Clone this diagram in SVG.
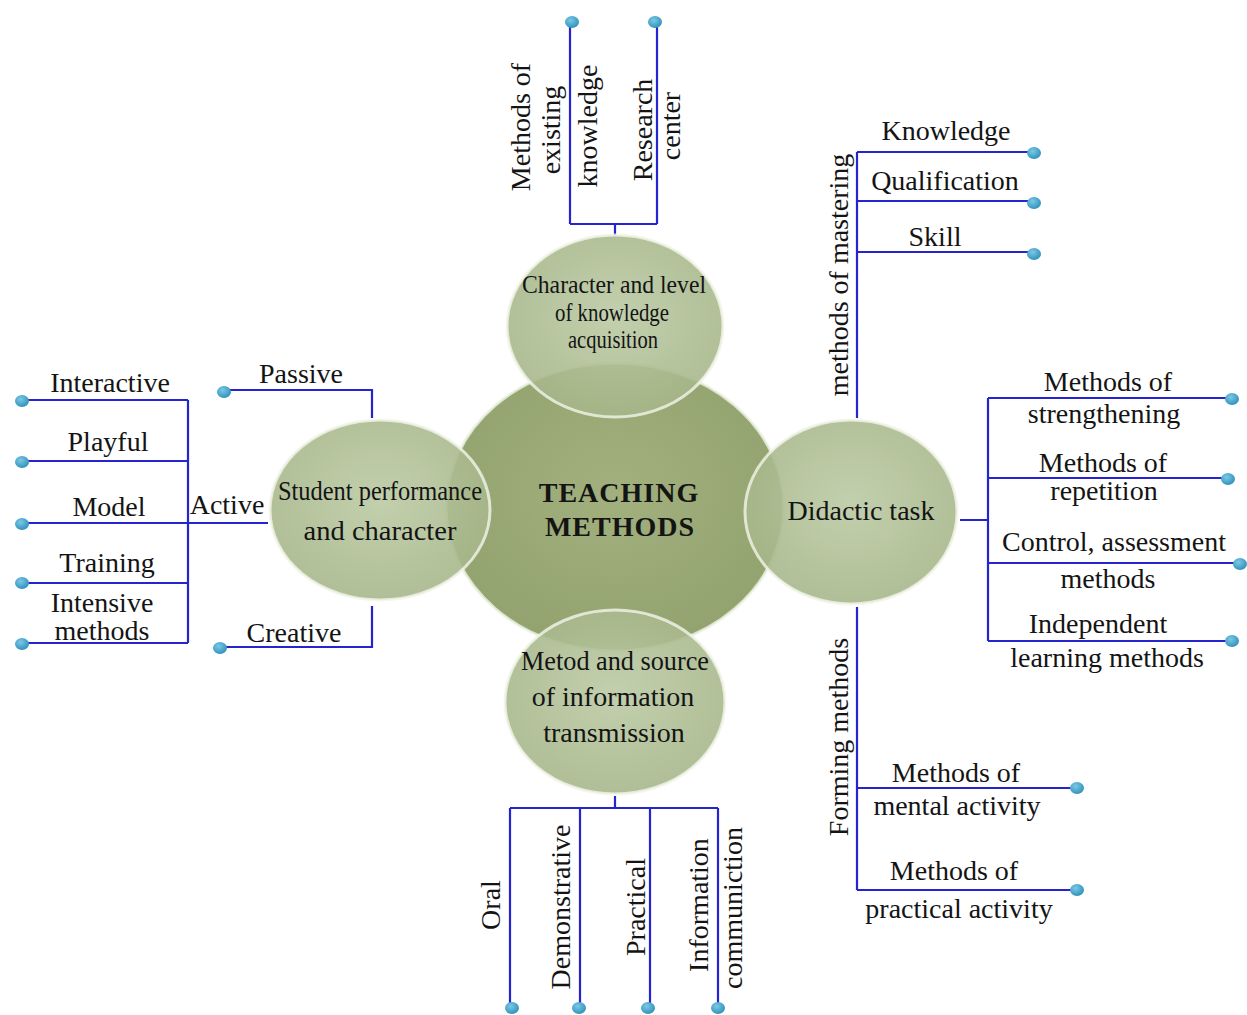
<svg xmlns="http://www.w3.org/2000/svg" width="1247" height="1015" viewBox="0 0 1247 1015" font-family="'Liberation Serif','DejaVu Serif',serif">
<defs>
<style>
text{font-family:'Liberation Serif','Times New Roman','DejaVu Serif',serif;fill:#141414;font-size:28px}
.c{text-anchor:middle}
.k{font-size:26px}
.b{font-weight:bold;font-size:28px;letter-spacing:1px}
.ln{fill:none;stroke:#2424d0;stroke-width:2.2}
.dot{fill:url(#dg)}
.sat{fill:url(#sg);stroke:#f2f5ea;stroke-opacity:0.8;stroke-width:3}
.main{fill:url(#mg);stroke:#eef2e4;stroke-opacity:0.8;stroke-width:3}
</style>
<radialGradient id="dg" cx="0.4" cy="0.35" r="0.7">
<stop offset="0" stop-color="#7cc8e6"/>
<stop offset="1" stop-color="#2b8fb8"/>
</radialGradient>
<radialGradient id="sg" cx="0.5" cy="0.45" r="0.6">
<stop offset="0" stop-color="#bccaa4" stop-opacity="0.9"/>
<stop offset="1" stop-color="#a3b486" stop-opacity="0.88"/>
</radialGradient>
<radialGradient id="mg" cx="0.5" cy="0.45" r="0.6">
<stop offset="0" stop-color="#a2b07e"/>
<stop offset="1" stop-color="#91a26e"/>
</radialGradient>
</defs>

<g id="connectors">
<path class="ln" d="M615,235 V224 M570,224 H657 M570,224 V22 M657,224 V22"/>
<path class="ln" d="M372,418 V390 H222 M372,606 V647 H220 M268,523 H188 M188,400 V643 M20,400 H188 M20,461 H188 M20,523 H188 M20,583 H188 M20,643 H188"/>
<path class="ln" d="M857,418 V152 M857,152 H1033 M857,201 H1033 M857,252 H1033"/>
<path class="ln" d="M960,520 H988 M988,398 V641 M988,398 H1232 M988,478 H1228 M988,563 H1240 M988,641 H1232"/>
<path class="ln" d="M857,607 V890 M857,788 H1075 M857,890 H1075"/>
<path class="ln" d="M615,796 V808 M510,808 H718 M510,808 V1008 M580,808 V1008 M650,808 V1008 M718,808 V1008"/>
<g>
<ellipse class="dot" cx="572" cy="22" rx="7" ry="6"/>
<ellipse class="dot" cx="655" cy="22" rx="7" ry="6"/>
<ellipse class="dot" cx="224" cy="392" rx="7" ry="6"/>
<ellipse class="dot" cx="220" cy="648" rx="7" ry="6"/>
<ellipse class="dot" cx="22" cy="401" rx="7" ry="6"/>
<ellipse class="dot" cx="22" cy="462" rx="7" ry="6"/>
<ellipse class="dot" cx="22" cy="524" rx="7" ry="6"/>
<ellipse class="dot" cx="22" cy="583" rx="7" ry="6"/>
<ellipse class="dot" cx="22" cy="644" rx="7" ry="6"/>
<ellipse class="dot" cx="1034" cy="153" rx="7" ry="6"/>
<ellipse class="dot" cx="1034" cy="203" rx="7" ry="6"/>
<ellipse class="dot" cx="1034" cy="254" rx="7" ry="6"/>
<ellipse class="dot" cx="1232" cy="399" rx="7" ry="6"/>
<ellipse class="dot" cx="1228" cy="479" rx="7" ry="6"/>
<ellipse class="dot" cx="1240" cy="564" rx="7" ry="6"/>
<ellipse class="dot" cx="1232" cy="641" rx="7" ry="6"/>
<ellipse class="dot" cx="1077" cy="788" rx="7" ry="6"/>
<ellipse class="dot" cx="1077" cy="890" rx="7" ry="6"/>
<ellipse class="dot" cx="512" cy="1008" rx="7" ry="6"/>
<ellipse class="dot" cx="579" cy="1008" rx="7" ry="6"/>
<ellipse class="dot" cx="648" cy="1008" rx="7" ry="6"/>
<ellipse class="dot" cx="718" cy="1008" rx="7" ry="6"/>
</g>
</g>

<g id="center">
<ellipse class="main" cx="615" cy="507" rx="169" ry="144"/>
</g>

<g id="top-node">
<ellipse class="sat" cx="615" cy="326" rx="108" ry="91"/>
<text class="c k" x="614" y="293" textLength="184" lengthAdjust="spacingAndGlyphs">Character and level</text>
<text class="c k" x="612" y="321" textLength="114" lengthAdjust="spacingAndGlyphs">of knowledge</text>
<text class="c k" x="613" y="348" textLength="90" lengthAdjust="spacingAndGlyphs">acquisition</text>
</g>

<g id="left-node">
<ellipse class="sat" cx="380" cy="510" rx="110" ry="90"/>
<text class="c" x="380" y="500" textLength="204" lengthAdjust="spacingAndGlyphs">Student performance</text>
<text class="c" x="380" y="540" textLength="153" lengthAdjust="spacingAndGlyphs">and character</text>
</g>

<g id="right-node">
<ellipse class="sat" cx="851" cy="512" rx="106" ry="92"/>
<text class="c" x="861" y="520">Didactic task</text>
</g>

<g id="bottom-node">
<ellipse class="sat" cx="615" cy="702" rx="110" ry="92"/>
<text class="c" x="615" y="670" textLength="188" lengthAdjust="spacingAndGlyphs">Metod and source</text>
<text class="c" x="613" y="706">of information</text>
<text class="c" x="614" y="742">transmission</text>
</g>

<g id="center-label">
<text class="c b" x="619" y="502">TEACHING</text>
<text class="c b" x="620" y="536">METHODS</text>
</g>

<g id="top-leaves">
<text class="c" transform="translate(530,127) rotate(-90)">Methods of</text>
<text class="c" transform="translate(560,130) rotate(-90)">existing</text>
<text class="c" transform="translate(597,126) rotate(-90)">knowledge</text>
<text class="c" transform="translate(652,130) rotate(-90)">Research</text>
<text class="c" transform="translate(680,126) rotate(-90)">center</text>
</g>

<g id="left-leaves">
<text class="c" x="301" y="383">Passive</text>
<text class="c" x="294" y="642">Creative</text>
<text class="c" x="227" y="514">Active</text>
<text class="c" x="110" y="392">Interactive</text>
<text class="c" x="108" y="451">Playful</text>
<text class="c" x="109" y="516">Model</text>
<text class="c" x="107" y="572">Training</text>
<text class="c" x="102" y="612">Intensive</text>
<text class="c" x="102" y="640">methods</text>
</g>

<g id="mastering">
<text class="c" transform="translate(848,275) rotate(-90)">methods of mastering</text>
<text class="c" x="946" y="140">Knowledge</text>
<text class="c" x="945" y="190">Qualification</text>
<text class="c" x="935" y="246">Skill</text>
</g>

<g id="didactic-leaves">
<text class="c" x="1108" y="391">Methods of</text>
<text class="c" x="1104" y="423">strengthening</text>
<text class="c" x="1103" y="472">Methods of</text>
<text class="c" x="1104" y="500">repetition</text>
<text class="c" x="1114" y="551">Control, assessment</text>
<text class="c" x="1108" y="588">methods</text>
<text class="c" x="1098" y="633">Independent</text>
<text class="c" x="1107" y="667">learning methods</text>
</g>

<g id="forming">
<text class="c" transform="translate(848,737) rotate(-90)">Forming methods</text>
<text class="c" x="956" y="782">Methods of</text>
<text class="c" x="957" y="815">mental activity</text>
<text class="c" x="954" y="880">Methods of</text>
<text class="c" x="959" y="918">practical activity</text>
</g>

<g id="bottom-leaves">
<text class="c" transform="translate(500,905) rotate(-90)">Oral</text>
<text class="c" transform="translate(570,907) rotate(-90)">Demonstrative</text>
<text class="c" transform="translate(645,907) rotate(-90)">Practical</text>
<text class="c" transform="translate(708,905) rotate(-90)">Information</text>
<text class="c" transform="translate(742,908) rotate(-90)">communiction</text>
</g>
</svg>
